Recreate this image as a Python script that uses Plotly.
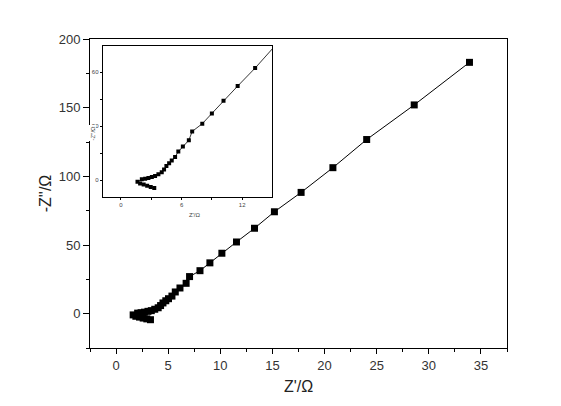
import plotly.graph_objects as go

z_real = [3.30, 2.95, 2.60, 2.25, 1.90, 1.64, 2.07, 2.40, 2.72, 3.06, 3.38, 3.71,
          4.04, 4.27, 4.50, 4.77, 5.03, 5.36, 5.68, 6.13, 6.72, 7.05, 8.05, 9.0,
          10.15, 11.55, 13.28, 15.19, 17.75, 20.8, 24.04, 28.6, 33.9]
z_imag = [-4.4, -3.8, -3.2, -2.5, -1.9, -0.9, 0.4, 0.7, 1.1, 1.7, 2.2, 3.2,
          4.3, 5.9, 7.8, 9.4, 10.9, 12.8, 15.8, 18.7, 22.1, 27.0, 31.3, 37.0,
          44.0, 52.2, 62.2, 74.2, 88.3, 106.3, 126.8, 152.0, 183.0]

main_xticks = [0, 5, 10, 15, 20, 25, 30, 35]
main_yticks = [0, 50, 100, 150, 200]
inset_xticks = [0, 6, 12]
inset_yticks = [0, 30, 60]

FONT = "Arial, Liberation Sans, sans-serif"

# page body has an 8px margin; size the figure so it fits the 561x406 window
W, H = 545, 390
L, T = 82, 31
PW, PH = 417, 309

fig = go.Figure()
fig.add_trace(go.Scatter(
    x=z_real, y=z_imag, mode="lines+markers",
    line=dict(color="black", width=1),
    marker=dict(symbol="square", size=7, color="black"),
    xaxis="x", yaxis="y", showlegend=False,
))
fig.add_trace(go.Scatter(
    x=z_real, y=z_imag, mode="lines+markers",
    line=dict(color="black", width=0.8),
    marker=dict(symbol="square", size=4, color="black"),
    xaxis="x2", yaxis="y2", showlegend=False, cliponaxis=True,
))

axis_common = dict(showgrid=False, zeroline=False, showline=True,
                   linecolor="black", linewidth=1, mirror=True,
                   ticks="outside", tickcolor="black", automargin=False)

fig.update_layout(
    width=W, height=H,
    margin=dict(l=L, r=W - L - PW, t=T, b=H - T - PH, autoexpand=False),
    paper_bgcolor="white", plot_bgcolor="white",
    font=dict(family=FONT, color="#222"),
    xaxis=dict(**axis_common, domain=[0, 1], anchor="y",
               range=[-2.5, 37.5], tickvals=main_xticks, ticklen=5, tickwidth=1,
               tickfont=dict(size=13, family=FONT, color="#333"),
               minor=dict(ticks="outside", ticklen=3, dtick=2.5, tick0=0, tickcolor="black"),
               title=dict(text="Z'/Ω", font=dict(size=16, family=FONT, color="#222"), standoff=9)),
    yaxis=dict(**axis_common, domain=[0, 1], anchor="x",
               range=[-25, 200], tickvals=main_yticks, ticklen=6, tickwidth=1,
               tickfont=dict(size=13, family=FONT, color="#333"),
               minor=dict(ticks="outside", ticklen=3, dtick=25, tick0=0, tickcolor="black"),
               title=dict(text="-Z''/Ω", font=dict(size=16, family=FONT, color="#222"), standoff=3)),
    xaxis2=dict(**axis_common, domain=[0.0305, 0.4365], anchor="y2",
                range=[-1.8, 14.95], tickvals=inset_xticks, ticklen=2, tickwidth=1,
                tickfont=dict(size=6, family=FONT, color="#444"),
                minor=dict(ticks="outside", ticklen=2, dtick=3, tick0=0, tickcolor="black")),
    yaxis2=dict(**axis_common, domain=[0.4887, 0.977], anchor="x2",
                range=[-9.4, 74.4], tickvals=inset_yticks, ticklen=2, tickwidth=1,
                tickfont=dict(size=6, family=FONT, color="#444"),
                minor=dict(ticks="outside", ticklen=2, dtick=15, tick0=0, tickcolor="black")),
    annotations=[
        dict(text="Z'/Ω", xref="paper", yref="paper",
             x=(187 - 90) / PW, y=(348 - 215) / PH, showarrow=False,
             font=dict(size=6, family=FONT, color="#444")),
        dict(text="-Z''/Ω", xref="paper", yref="paper", textangle=-90,
             x=(88 - 90) / PW, y=(348 - 125) / PH, showarrow=False,
             bgcolor="white", borderpad=0,
             font=dict(size=6, family=FONT, color="#444")),
    ],
)

fig.write_html("out.html")
